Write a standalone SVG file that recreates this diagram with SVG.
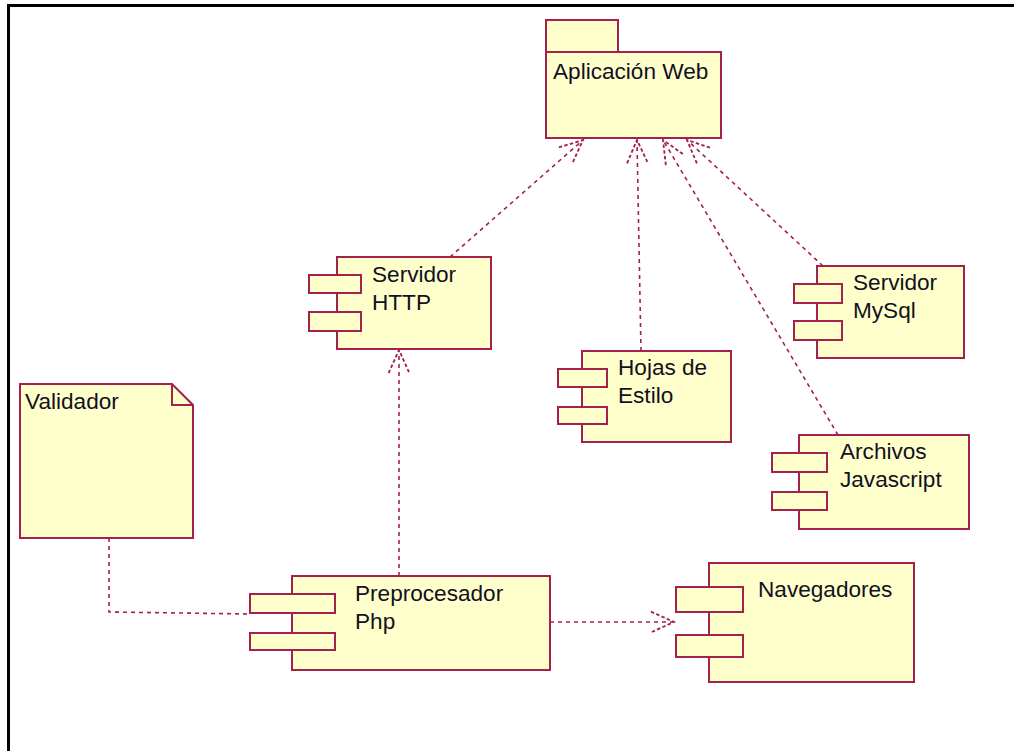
<svg xmlns="http://www.w3.org/2000/svg" width="1014" height="751" viewBox="0 0 1014 751">
<style>
.box{fill:#FFFFCC;stroke:#A3214C;stroke-width:2}
.t{font-family:"Liberation Sans",Arial,sans-serif;font-size:22.6px;fill:#111122}
.c{fill:none;stroke:#A3214C;stroke-width:1.6;stroke-dasharray:4 4}
</style>
<defs>
<marker id="open" markerUnits="userSpaceOnUse" markerWidth="30" markerHeight="30" viewBox="-22 -12 26 24" refX="0" refY="0" orient="auto">
<path d="M-20,-9 L0,0 L-20,9" fill="none" stroke="#A3214C" stroke-width="1.6" stroke-dasharray="3 2"/>
</marker>
</defs>
<rect width="1014" height="751" fill="#fff"/>
<path d="M8.5,751 V5.5 H1014" fill="none" stroke="#000" stroke-width="3"/>

<g id="connectors">
<path class="c" d="M450,257 L583,140" marker-end="url(#open)"/>
<path class="c" d="M641,351 L637,140" marker-end="url(#open)"/>
<path class="c" d="M838,435 L663,140" marker-end="url(#open)"/>
<path class="c" d="M823,266 L687,140" marker-end="url(#open)"/>
<path class="c" d="M399,576 L399,350" marker-end="url(#open)"/>
<path class="c" d="M550,622 L674,622" marker-end="url(#open)"/>
<path class="c" d="M109,538 V612 L250,614"/>
</g>

<g id="aplicacion-web">
<rect class="box" x="546" y="20" width="72" height="32"/>
<rect class="box" x="546" y="52" width="175" height="86"/>
<text class="t" x="553" y="79">Aplicación Web</text>
</g>

<g id="servidor-http">
<rect class="box" x="337" y="257" width="154" height="92"/>
<rect class="box" x="309" y="275" width="52" height="18"/>
<rect class="box" x="309" y="312" width="52" height="19"/>
<text class="t" x="372" y="282">Servidor</text>
<text class="t" x="372" y="310">HTTP</text>
</g>

<g id="hojas-de-estilo">
<rect class="box" x="582" y="351" width="149" height="91"/>
<rect class="box" x="558" y="369" width="49" height="18"/>
<rect class="box" x="558" y="407" width="49" height="17"/>
<text class="t" x="618" y="375">Hojas de</text>
<text class="t" x="618" y="403">Estilo</text>
</g>

<g id="servidor-mysql">
<rect class="box" x="817" y="266" width="147" height="92"/>
<rect class="box" x="794" y="284" width="48" height="19"/>
<rect class="box" x="794" y="321" width="48" height="19"/>
<text class="t" x="853" y="290">Servidor</text>
<text class="t" x="853" y="318">MySql</text>
</g>

<g id="archivos-javascript">
<rect class="box" x="799" y="435" width="170" height="94"/>
<rect class="box" x="772" y="453" width="55" height="19"/>
<rect class="box" x="772" y="492" width="55" height="18"/>
<text class="t" x="840" y="459">Archivos</text>
<text class="t" x="840" y="487">Javascript</text>
</g>

<g id="validador">
<path class="box" d="M20,384 H172 L193,405 V538 H20 Z"/>
<path d="M172,384 V405 H193" fill="none" stroke="#A3214C" stroke-width="2"/>
<text class="t" x="25" y="409">Validador</text>
</g>

<g id="preprocesador-php">
<rect class="box" x="292" y="576" width="258" height="94"/>
<rect class="box" x="250" y="594" width="85" height="19"/>
<rect class="box" x="250" y="633" width="85" height="17"/>
<text class="t" x="355" y="601">Preprocesador</text>
<text class="t" x="355" y="629">Php</text>
</g>

<g id="navegadores">
<rect class="box" x="709" y="563" width="205" height="119"/>
<rect class="box" x="676" y="587" width="67" height="25"/>
<rect class="box" x="676" y="635" width="67" height="22"/>
<text class="t" x="758" y="597">Navegadores</text>
</g>
</svg>
